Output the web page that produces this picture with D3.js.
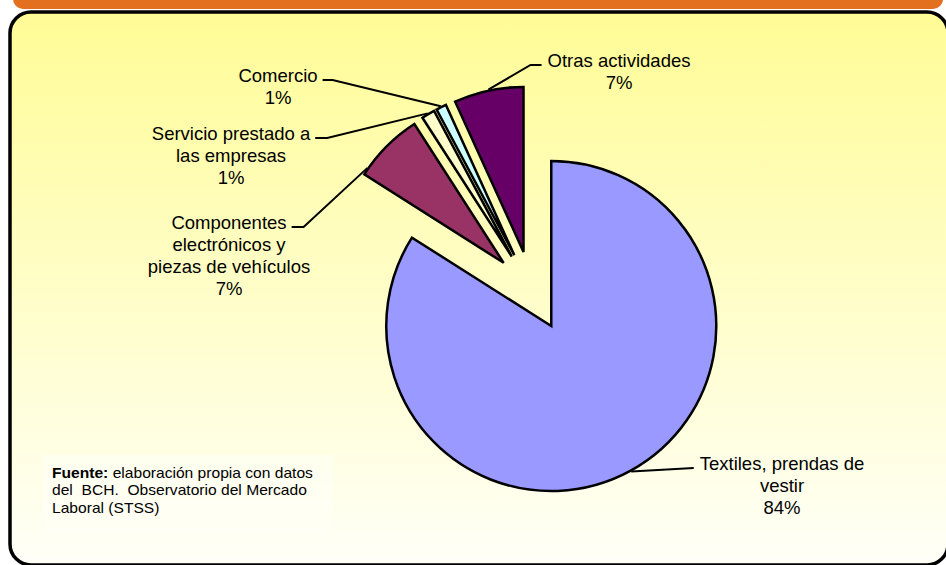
<!DOCTYPE html>
<html>
<head>
<meta charset="utf-8">
<script src="https://cdn.jsdelivr.net/npm/d3@7"></script>
<style>
  html, body { margin: 0; padding: 0; background: #fff; }
  svg { display: block; font-family: "Liberation Sans", Arial, sans-serif; }
  .note { white-space: pre; }
</style>
</head>
<body>
<div id="chart"></div>
<script>
// Data
const categories = [
    'Textiles, prendas de vestir',
    'Componentes electrónicos y piezas de vehículos',
    'Servicio prestado a las empresas',
    'Comercio',
    'Otras actividades'
];
const values = [84.0, 6.9, 1.3, 1.0, 6.8];
const labelLines = [
    ['Textiles, prendas de', 'vestir'],
    ['Componentes', 'electrónicos y', 'piezas de vehículos'],
    ['Servicio prestado a', 'las empresas'],
    ['Comercio'],
    ['Otras actividades']
];
const colors = ['#9999FF', '#993366', '#FFFFCC', '#CCFFFF', '#660066'];
const sourceLines = [
    ['Fuente:', ' elaboración propia con datos'],
    ['', 'del  BCH.  Observatorio del Mercado'],
    ['', 'Laboral (STSS)']
];

const width = 946;
const height = 565;
const center = { x: 532, y: 291 };
const radius = 165;
const explode = 40;

// label placement: text centre x, first baseline, which side the leader leaves from,
// length of the short horizontal piece, where on the arc the leader lands
const labelPos = [
    { x: 782, y: 469.5, side: 'left', elbow: 0, frac: 0.5 },
    { x: 229, y: 228.5, side: 'right', elbow: 12, frac: 0.1 },
    { x: 231, y: 139.5, side: 'right', elbow: 12, frac: 0.5 },
    { x: 278, y: 81.5, side: 'right', elbow: 10, frac: 0.5 },
    { x: 619, y: 66.5, side: 'left', elbow: 11, frac: 0.5 }
];

const svg = d3.select('#chart').append('svg')
    .attr('width', width)
    .attr('height', height);

const defs = svg.append('defs');
const grad = defs.append('linearGradient')
    .attr('id', 'bg')
    .attr('x1', 0).attr('y1', 0).attr('x2', 0).attr('y2', 1);
grad.append('stop').attr('offset', '0%').attr('stop-color', '#FFFC96');
grad.append('stop').attr('offset', '100%').attr('stop-color', '#FFFFF8');

// orange header bar
svg.append('rect')
    .attr('x', 13).attr('y', -12)
    .attr('width', 930).attr('height', 21)
    .attr('rx', 10)
    .attr('fill', '#E2701F');

// panel
svg.append('rect')
    .attr('x', 10).attr('y', 12)
    .attr('width', 938).attr('height', 553)
    .attr('rx', 21)
    .attr('fill', 'url(#bg)')
    .attr('stroke', '#000')
    .attr('stroke-width', 3.5);

const total = d3.sum(values);
const pct = d3.format('.0%');

const pie = d3.pie().sort(null).value(d => d);
const arcs = pie(values);
const arc = d3.arc().innerRadius(0).outerRadius(radius);

const offset = d => {
    const mid = (d.startAngle + d.endAngle) / 2;
    return [explode * Math.sin(mid), -explode * Math.cos(mid)];
};

const g = svg.append('g')
    .attr('transform', `translate(${center.x},${center.y})`);

g.selectAll('.slice')
    .data(arcs)
    .enter().append('path')
    .attr('class', 'slice')
    .attr('transform', d => `translate(${offset(d)})`)
    .attr('d', arc)
    .attr('fill', (d, i) => colors[i])
    .attr('stroke', '#000')
    .attr('stroke-width', 2.5)
    .attr('stroke-linejoin', 'miter');

// labels
const fontSize = 18.5;
const lineH = 22;
const labels = svg.selectAll('.label')
    .data(arcs)
    .enter().append('text')
    .attr('class', 'label')
    .attr('text-anchor', 'middle')
    .attr('font-size', fontSize)
    .attr('fill', '#000');

labels.each(function (d, i) {
    const t = d3.select(this);
    const p = labelPos[i];
    const lines = labelLines[i].concat([pct(values[i] / total)]);
    lines.forEach((s, k) => {
        t.append('tspan')
            .attr('x', p.x)
            .attr('y', p.y + k * lineH)
            .text(s);
    });
});

// leader lines
labels.each(function (d, i) {
    const p = labelPos[i];
    const first = d3.select(this).select('tspan').node();
    const w = first.getComputedTextLength();
    const ly = p.y - 1.5;
    const x0 = p.side === 'right' ? p.x + w / 2 + 5 : p.x - w / 2 - 6;
    const x1 = p.side === 'right' ? x0 + p.elbow : x0 - p.elbow;
    const a = d.startAngle + p.frac * (d.endAngle - d.startAngle);
    const o = offset(d);
    const ex = center.x + o[0] + (radius + 1) * Math.sin(a);
    const ey = center.y + o[1] - (radius + 1) * Math.cos(a);
    svg.append('path')
        .attr('d', d3.line()([[x0, ly], [x1, ly], [ex, ey]]))
        .attr('fill', 'none')
        .attr('stroke', '#000')
        .attr('stroke-width', 2);
});

// source note
svg.append('rect')
    .attr('x', 43).attr('y', 455)
    .attr('width', 290).attr('height', 77)
    .attr('fill', '#FFFFF6')
    .attr('opacity', 0.6);

const note = svg.append('text')
    .attr('class', 'note')
    .attr('font-size', 15)
    .attr('fill', '#000')
    .attr('transform', 'translate(52,0) scale(1.04,1)');

sourceLines.forEach((ln, k) => {
    const y = 478 + k * 17.5;
    if (ln[0]) {
        note.append('tspan')
            .attr('x', 0).attr('y', y)
            .attr('font-weight', 'bold')
            .text(ln[0]);
        note.append('tspan').text(ln[1]);
    } else {
        note.append('tspan')
            .attr('x', 0).attr('y', y)
            .text(ln[1]);
    }
});
</script>
</body>
</html>
